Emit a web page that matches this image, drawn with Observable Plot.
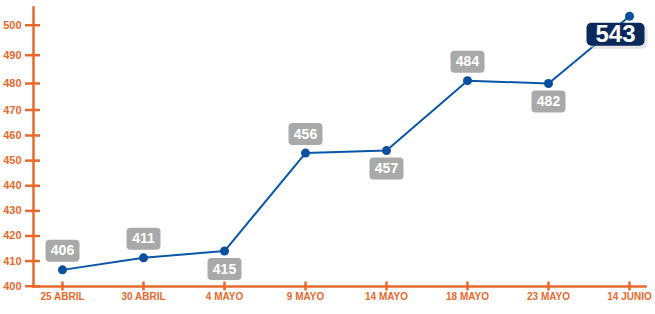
<!DOCTYPE html>
<html><head><meta charset="utf-8">
<script src="https://cdn.jsdelivr.net/npm/d3@7"></script>
<script src="https://cdn.jsdelivr.net/npm/@observablehq/plot@0.6"></script>
<style>body{margin:0;background:#fff}</style>
</head><body><div id="chart"></div>
<script>
const dates = ["25 ABRIL", "30 ABRIL", "4 MAYO", "9 MAYO", "14 MAYO", "18 MAYO", "23 MAYO", "14 JUNIO"];
const values = [406.5, 411.3, 414, 453, 454, 481, 480, 503];
const labels = [406, 411, 415, 456, 457, 484, 482, 543];
const yTicks = [400, 410, 420, 430, 440, 450, 460, 470, 480, 490, 500];

const orange = "#e8692c";
const data = dates.map((d, i) => ({date: d, value: values[i], label: labels[i]}));
const n = data.length;
data.forEach((d, i) => {
  if (i === n - 1) d.side = "highlight";
  else if (i === 0) d.side = "above";
  else d.side = (values[i + 1] - values[i]) > (values[i] - values[i - 1]) ? "below" : "above";
});

function roundRect(w, h, r) {
  return {draw(ctx) {
    const x0 = -w / 2, y0 = -h / 2, x1 = w / 2, y1 = h / 2;
    ctx.moveTo(x0 + r, y0); ctx.lineTo(x1 - r, y0); ctx.arcTo(x1, y0, x1, y0 + r, r);
    ctx.lineTo(x1, y1 - r); ctx.arcTo(x1, y1, x1 - r, y1, r);
    ctx.lineTo(x0 + r, y1); ctx.arcTo(x0, y1, x0, y1 - r, r);
    ctx.lineTo(x0, y0 + r); ctx.arcTo(x0, y0, x0 + r, y0, r); ctx.closePath();
  }};
}

const above = data.filter(d => d.side === "above");
const below = data.filter(d => d.side === "below");
const hi = data.filter(d => d.side === "highlight");
const smallBox = roundRect(34, 22, 4);
const bigBox = roundRect(58, 23, 5);

const chart = Plot.plot({
  width: 655, height: 314,
  marginLeft: 33, marginRight: 10, marginTop: 7, marginBottom: 28,
  style: {fontFamily: "Arial, 'Liberation Sans', sans-serif", background: "#fff"},
  x: {type: "point", domain: dates, range: [62, 629], padding: 0, label: null},
  y: {type: "linear", domain: [400, 460, 470, 480, 490, 500], range: [285.7, 135, 109.5, 83, 54.7, 24.7], label: null},
  marks: [
    Plot.axisY({ticks: yTicks, tickSize: 15, dx: 7, text: null, stroke: orange, strokeWidth: 2.5, label: null}),
    Plot.axisY({ticks: yTicks, tickSize: 0, tickPadding: 12, fill: orange, fontSize: 11, fontWeight: "bold", label: null}),
    Plot.axisX({tickSize: 9, dy: -4.5, text: null, stroke: orange, strokeWidth: 2.5, label: null}),
    Plot.axisX({tickSize: 0, tickPadding: 6, fill: orange, fontSize: 10, fontWeight: "bold", label: null}),
    Plot.frame({anchor: "left", stroke: orange, strokeWidth: 2.5}),
    Plot.frame({anchor: "bottom", stroke: orange, strokeWidth: 2.5}),
    Plot.line(data, {x: "date", y: "value", stroke: "#0b56a7", strokeWidth: 2}),
    Plot.dot(data, {x: "date", y: "value", r: 4.5, fill: "#0a4f9e"}),
    Plot.dot(above, {x: "date", y: "value", dy: -19, r: 1, symbol: smallBox, fill: "#a9a9a9"}),
    Plot.text(above, {x: "date", y: "value", dy: -19, text: "label", fill: "white", fontSize: 14, fontWeight: "bold"}),
    Plot.dot(below, {x: "date", y: "value", dy: 18, r: 1, symbol: smallBox, fill: "#a9a9a9"}),
    Plot.text(below, {x: "date", y: "value", dy: 18, text: "label", fill: "white", fontSize: 14, fontWeight: "bold"}),
    Plot.dot(hi, {x: "date", y: "value", dx: -11, dy: 21, r: 1, symbol: bigBox, fill: "#cccccc", fillOpacity: 0.5}),
    Plot.dot(hi, {x: "date", y: "value", dx: -14, dy: 18, r: 1, symbol: bigBox, fill: "#0a2a5c"}),
    Plot.text(hi, {x: "date", y: "value", dx: -14, dy: 18, text: "label", fill: "white", fontSize: 24, fontWeight: "bold"})
  ]
});
document.getElementById("chart").appendChild(chart);
</script>
</body></html>
